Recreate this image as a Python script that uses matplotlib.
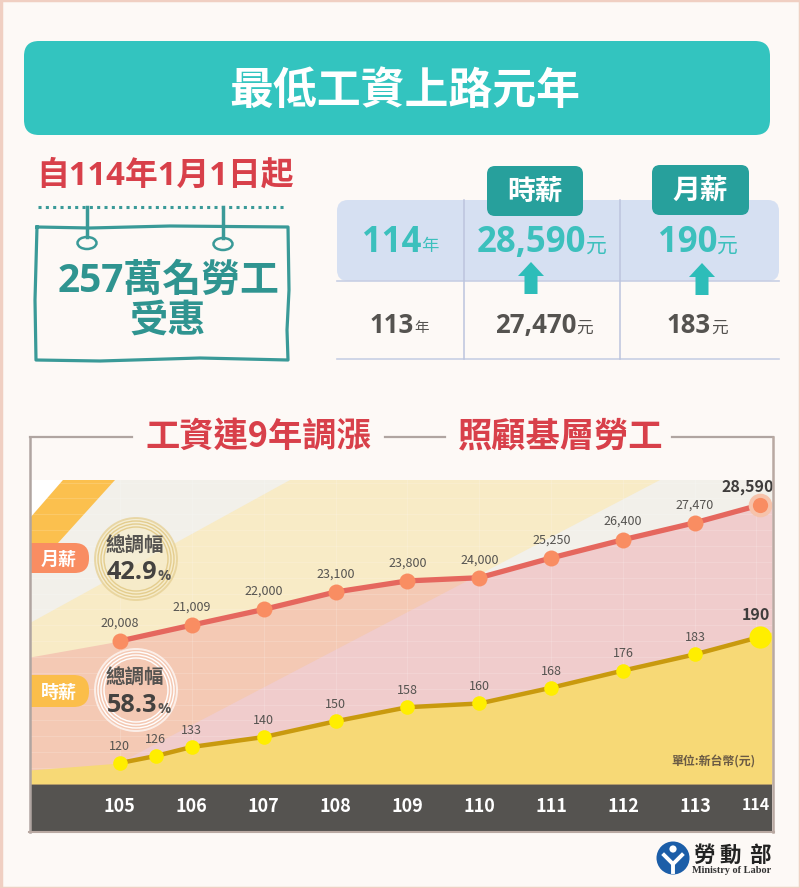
import matplotlib
matplotlib.use("Agg")
import matplotlib.pyplot as plt
from matplotlib.patches import Rectangle, FancyBboxPatch, Polygon, Circle, Ellipse

CJK = ['Noto Sans CJK TC', 'DejaVu Sans']
LATIN = ['Open Sans', 'Noto Sans CJK TC', 'DejaVu Sans']
plt.rcParams['font.family'] = CJK

# monthly wage, years 105-114
month_years = [105, 106, 107, 108, 109, 110, 111, 112, 113, 113.9]
month_values = [20008, 21009, 22000, 23100, 23800, 24000, 25250, 26400, 27470, 28590]
# hourly wage, 105 has two adjustments
hour_years = [105, 105.5, 106, 107, 108, 109, 110, 111, 112, 113, 113.9]
hour_values = [120, 126, 133, 140, 150, 158, 160, 168, 176, 183, 190]
# the area fills run on past the first and last point
month_edges = [19000, 28770]
hour_edges = [113.5, 192]
x_edges = [103.75, 114.07]
tick_years = [105, 106, 107, 108, 109, 110, 111, 112, 113, 113.85]
tick_labels = ["105", "106", "107", "108", "109", "110", "111", "112", "113", "114"]

RED = "#d8404a"
TEAL = "#33c4bf"
DTEAL = "#27a09c"
CARD = "#3a9a98"
GREY = "#555350"
BG = "#fdf9f6"

fig = plt.figure(figsize=(8, 8.88), dpi=100, facecolor=BG)


def px_axes(z):
    a = fig.add_axes([0, 0, 1, 1], zorder=z)
    a.set_xlim(0, 800)
    a.set_ylim(888, 0)
    a.axis("off")
    a.patch.set_alpha(0)
    return a


def rbox(a, x0, y0, x1, y1, r, color, z=2, **kw):
    p = FancyBboxPatch((x0, y0), x1 - x0, y1 - y0, boxstyle="round,pad=0,rounding_size=%g" % r,
                       fc=color, ec=kw.pop("ec", "none"), zorder=z, **kw)
    a.add_patch(p)


def label(a, x, y, s, size, color, ha="center", weight="bold", **kw):
    a.text(x, y, s, fontsize=size, color=color, ha=ha, va="center", fontweight=weight, **kw)


bg = px_axes(0)
bg.add_patch(Rectangle((0.5, 0.5), 799, 887, fc="none", ec="#f0cfc2", lw=2.5))

# title bar
rbox(bg, 24, 41, 770, 135, 15, TEAL)
label(bg, 405, 91, "最低工資上路元年", 31.6, "white")

# date and hanging card
label(bg, 165, 176, "自114年1月1日起", 23.7, RED, family=LATIN)
bg.plot([38, 287], [207, 207], color=CARD, lw=2.2, ls=(0, (1, 1.4)))
bg.plot([37, 90, 170, 288, 289, 287, 288, 200, 100, 36, 35, 37],
        [227, 228, 226, 227, 290, 330, 360, 358, 361, 360, 300, 227], color=CARD, lw=2.3)
for hx, hy in [(87, 243), (223, 244)]:
    bg.plot([hx, hx], [207, hy - 6], color=CARD, lw=2.5)
    bg.add_patch(Ellipse((hx, hy), 19, 12, fc=BG, ec=CARD, lw=1.8))
label(bg, 168.5, 281, "257萬名勞工", 28, "#2f9490", family=LATIN)
label(bg, 168, 320, "受惠", 27.5, "#2f9490")

# small table
rbox(bg, 337, 200, 779, 281, 11, "#d6e0f2")
for ly in [281, 359]:
    bg.plot([337, 779], [ly, ly], color="#c8cfe4", lw=1.2)
for lx in [464, 620]:
    bg.plot([lx, lx], [200, 359], color="#bcc4de", lw=1.1)
rbox(bg, 487, 166, 583, 216, 8, DTEAL, z=3)
rbox(bg, 652, 165, 749, 215, 8, DTEAL, z=3)
label(bg, 535, 192, "時薪", 20, "white", zorder=4)
label(bg, 700, 191, "月薪", 20, "white", zorder=4)


def num_unit(x, y, num, unit, size, usize, color):
    label(bg, x, y, num, size, color, ha="right", family=LATIN)
    label(bg, x, y + 3, unit, usize, color, ha="left", weight="normal")


num_unit(421, 243, "114", "年", 25, 12.5, "#3cc0bd")
num_unit(586, 243, "28,590", "元", 25, 15, "#3cc0bd")
num_unit(717, 243, "190", "元", 25, 15, "#3cc0bd")
num_unit(414, 325, "113", "年", 18.5, 10.5, GREY)
num_unit(576, 325, "27,470", "元", 18.5, 12, GREY)
num_unit(711, 325, "183", "元", 18.5, 12, GREY)
for ax_x, tip in [(531, 262), (702, 263)]:
    bg.add_patch(Polygon([(ax_x, tip), (ax_x + 13, tip + 14), (ax_x + 6.5, tip + 14), (ax_x + 6.5, tip + 32),
                          (ax_x - 6.5, tip + 32), (ax_x - 6.5, tip + 14), (ax_x - 13, tip + 14)],
                         fc="#2dbdb9", ec="none", zorder=3))

# section heading
label(bg, 258, 436, "工資連9年調漲", 24.7, RED)
label(bg, 561, 436, "照顧基層勞工", 24.7, RED)
for x0, x1 in [(30, 132), (385, 445), (672, 773)]:
    bg.plot([x0, x1], [437, 437], color="#b0a5a1", lw=1.6)

# chart background
bg.add_patch(Rectangle((30, 480), 742, 304, fc="#f2f0ea", ec="none"))
bg.add_patch(Polygon([(30, 623), (290, 480), (660, 480), (150, 747), (30, 810)],
                     closed=True, fc="#f8ebc6", ec="none"))
bg.add_patch(Rectangle((30, 784), 742, 47, fc=GREY, ec="none", zorder=2))
bg.add_patch(Polygon([(30, 480), (63, 480), (30, 518)], fc="white", ec="none", zorder=2))
bg.add_patch(Polygon([(63, 480), (115, 480), (58, 543), (30, 543), (30, 518)], fc="#fbc04e", ec="none", zorder=2))

# chart, monthly on ax and hourly on ax2
pos = [30 / 800, (888 - 784) / 888, 742 / 800, 304 / 888]
ax = fig.add_axes(pos, zorder=1)
ax.patch.set_alpha(0)
ax.set_xlim(x_edges)
ax.set_ylim(10986, 30166)
ax2 = ax.twinx()
ax2.patch.set_alpha(0)
# hourly line is drawn bowed, a power scale follows it
ax2.set_yscale("function", functions=(lambda v: v ** 2.8, lambda v: v ** (1 / 2.8)))
ax2.set_ylim(97.8, 239)
for a in [ax, ax2]:
    for s in a.spines.values():
        s.set_visible(False)
    a.tick_params(left=False, right=False, labelleft=False, labelright=False, bottom=False)

ax.fill_between([x_edges[0]] + month_years + [x_edges[1]], [month_edges[0]] + month_values + [month_edges[1]],
                10986, color="#ed8490", alpha=0.33, lw=0)
ax2.fill_between([x_edges[0]] + hour_years + [x_edges[1]], [hour_edges[0]] + hour_values + [hour_edges[1]],
                 97.8, color="#f7d976", lw=0)
ax.set_yticks(range(12000, 30001, 1000))
ax.set_xticks(tick_years)
ax.set_xticklabels(tick_labels, color="white", fontsize=13, fontweight="bold")
ax.get_xticklabels()[-1].set_fontsize(11.5)
ax.tick_params(axis="x", pad=9.5, length=0)
ax.grid(color="white", alpha=0.15, lw=0.8)

ax.plot(month_years, month_values, color="#e5675e", lw=3.8, solid_capstyle="round", zorder=4)
ax.plot(month_years, month_values, "o", color="#f98d62", ms=11.5, mec="none", zorder=5)
ax.plot(month_years[-1], month_values[-1], "o", color="#f98d62", ms=14, mec="#f6c3ab", mew=3, zorder=5)
ax2.plot(hour_years, hour_values, color="#c99a0e", lw=3.2, zorder=4)
ax2.plot(hour_years, hour_values, "o", color="#ffee00", ms=10.5, mec="none", zorder=5)
ax2.plot(hour_years[-1], hour_values[-1], "o", color="#ffee00", ms=16, mec="none", zorder=5)

for i in range(len(month_years)):
    last = i == len(month_years) - 1
    ax.annotate(f"{month_values[i]:,}", (month_years[i], month_values[i]), xytext=(-9 if last else 0, 13),
                textcoords="offset points", ha="center", va="center", color="#3f3d3c" if last else GREY,
                fontsize=11.5 if last else 9, fontweight="bold" if last else "medium", zorder=6)
for i in range(len(hour_years)):
    last = i == len(hour_years) - 1
    ax2.annotate(str(hour_values[i]), (hour_years[i], hour_values[i]), xytext=(-3 if last else 0, 16 if last else 12),
                 textcoords="offset points", ha="center", va="center", color="#3f3d3c" if last else GREY,
                 fontsize=11.5 if last else 9, fontweight="bold" if last else "medium", zorder=6)

# pills, rings and frame on top
ov = px_axes(5)
ov.add_patch(Rectangle((30, 543), 25, 30, fc="#f98d62", ec="none"))
rbox(ov, 30, 543, 89, 573, 14.5, "#f98d62")
ov.add_patch(Rectangle((30, 675), 25, 32, fc="#fbbe4a", ec="none"))
rbox(ov, 30, 675, 89, 707, 15.5, "#fbbe4a")
label(ov, 59, 559, "月薪", 13, "white", zorder=6)
label(ov, 59, 692, "時薪", 13, "white", zorder=6)
for cy, ring, fill in [(559, "#e4cd8e", "#f6eccb"), (690, "white", "#f5c9b4")]:
    ov.add_patch(Circle((136, cy), 41, fc=fill, ec=ring, lw=1.4, alpha=0.7))
    for r in [38, 35, 32]:
        ov.add_patch(Circle((136, cy), r, fc="none", ec=ring, lw=1.0))
label(ov, 135, 546, "總調幅", 14, GREY, zorder=6)
label(ov, 157, 572, "42.9", 18.2, "#444240", ha="right", zorder=6, family=LATIN)
label(ov, 158, 576, "%", 10.5, GREY, ha="left", zorder=6, family=LATIN)
label(ov, 135, 678, "總調幅", 14, GREY, zorder=6)
label(ov, 157, 705, "58.3", 18.2, "#444240", ha="right", zorder=6, family=LATIN)
label(ov, 158, 709, "%", 10.5, GREY, ha="left", zorder=6, family=LATIN)
label(ov, 713, 762, "單位:新台幣(元)", 8.6, "#6a5a44")

ov.plot([29.5, 29.5], [437, 832], color="#b0a5a1", lw=1.8)
ov.plot([773, 773], [437, 832], color="#b9a9a2", lw=1.8)
ov.plot([29, 774], [832, 832], color="#b9a9a2", lw=1.5)

# ministry logo
ov.add_patch(Circle((673, 858), 16.5, fc="#1c5ea8", ec="none"))
ov.add_patch(Circle((673, 849), 3.6, fc="white", ec="none"))
ov.plot([664, 673, 682], [855, 864, 855], color="white", lw=2.8)
ov.plot([673, 673], [864, 872], color="white", lw=2.8)
for cx, ch in [(703.5, "勞"), (730.5, "動"), (759.5, "部")]:
    ov.text(cx, 855, ch, fontsize=15.5, color="#222222", ha="center", va="center", fontweight="bold")
ov.text(731.5, 870, "Ministry of Labor", fontsize=7.4, color="#333333", ha="center", va="center",
        family="Liberation Serif", fontweight="bold")

fig.savefig("out.png", dpi=100, facecolor=BG)
